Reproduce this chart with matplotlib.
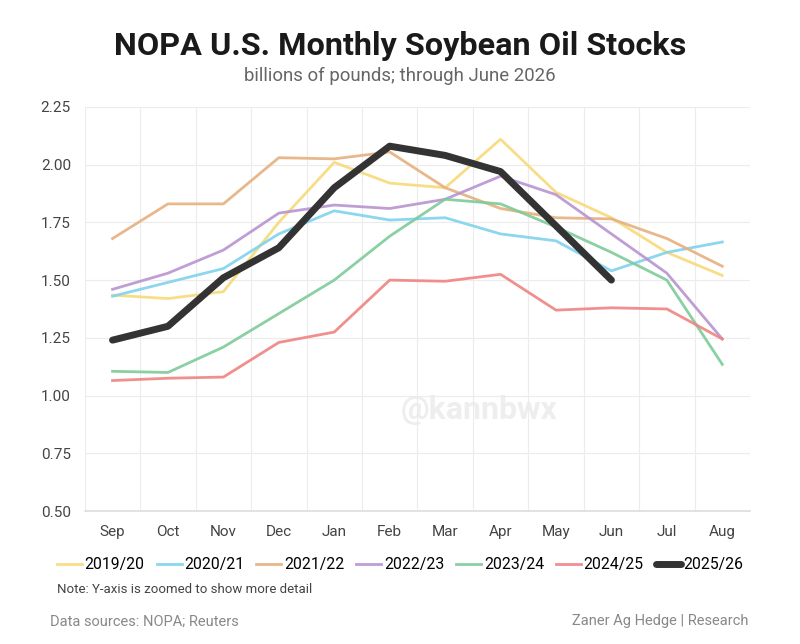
import numpy as np
import matplotlib.pyplot as plt

months = ['Sep', 'Oct', 'Nov', 'Dec', 'Jan', 'Feb', 'Mar', 'Apr', 'May', 'Jun', 'Jul', 'Aug']

s1920 = [1.435, 1.42, 1.45, 1.75, 2.01, 1.92, 1.90, 2.11, 1.88, 1.77, 1.62, 1.52]
s2021 = [1.43, 1.49, 1.55, 1.70, 1.80, 1.76, 1.77, 1.70, 1.67, 1.54, 1.62, 1.665]
s2122 = [1.68, 1.83, 1.83, 2.03, 2.025, 2.055, 1.90, 1.81, 1.77, 1.765, 1.68, 1.56]
s2223 = [1.46, 1.53, 1.63, 1.79, 1.825, 1.81, 1.85, 1.95, 1.87, 1.70, 1.53, 1.245]
s2324 = [1.105, 1.10, 1.21, 1.355, 1.50, 1.69, 1.85, 1.83, 1.73, 1.62, 1.50, 1.135]
s2425 = [1.065, 1.075, 1.08, 1.23, 1.275, 1.50, 1.495, 1.525, 1.37, 1.38, 1.375, 1.245]
s2526 = [1.24, 1.30, 1.51, 1.64, 1.90, 2.08, 2.04, 1.97, 1.735, 1.50]

seasons = ['2019/20', '2020/21', '2021/22', '2022/23', '2023/24', '2024/25', '2025/26']
series = [s1920, s2021, s2122, s2223, s2324, s2425, s2526]
colors = ['#F8DA7A', '#80D2EE', '#E6B07F', '#B894D2', '#7DCB98', '#EE8482', '#333333']

plt.rcParams['font.family'] = ['Roboto', 'DejaVu Sans']

fig = plt.figure(figsize=(8, 6.44), dpi=100)
ax = fig.add_axes([0.106, 0.2065, 0.8315, 0.6275])

x = np.arange(len(months))
for name, vals, c in zip(seasons, series, colors):
    if name == '2025/26':
        ax.plot(x[:len(vals)], vals, color=c, lw=5, solid_capstyle='round',
                solid_joinstyle='round', label=name, zorder=5)
    else:
        ax.plot(x[:len(vals)], vals, color=c, lw=2, alpha=0.9, label=name, zorder=3)

ax.set_xlim(-0.5, 11.5)
ax.set_ylim(0.5, 2.25)
ax.set_xticks(x)
ax.set_xticklabels(months)
ax.set_yticks(np.arange(0.5, 2.26, 0.25))
ax.set_yticklabels(['%.2f' % v for v in np.arange(0.5, 2.26, 0.25)])
ax.set_xticks(np.arange(-0.5, 12, 1), minor=True)
ax.grid(False)
ax.grid(True, which='minor', axis='x', color='#ececec', lw=0.8)
ax.grid(True, which='major', axis='y', color='#ececec', lw=0.8)
ax.tick_params(which='both', length=0)
ax.tick_params(axis='both', labelsize=11, labelcolor='#444444', pad=10)
for s in ['top', 'right', 'left']:
    ax.spines[s].set_visible(False)
ax.spines['bottom'].set_color('#dddddd')
ax.spines['bottom'].set_linewidth(1.2)

ax.text(0.475, 0.25, '@kannbwx', transform=ax.transAxes, fontsize=23, fontweight='bold',
        color='#eeeeee', ha='left', va='center', zorder=1)

fig.text(0.5, 0.928, 'NOPA U.S. Monthly Soybean Oil Stocks', ha='center', va='center',
         fontsize=23.3, fontweight='bold', color='#1a1a1a')
fig.text(0.5, 0.882, 'billions of pounds; through June 2026', ha='center', va='center',
         fontsize=13.4, color='#666666')

fig.legend(loc='center', bbox_to_anchor=(0.5, 0.123), ncol=7, frameon=False,
           fontsize=11.3, handlelength=1.6, handletextpad=0.15, columnspacing=0.78)

fig.text(0.071, 0.084, 'Note: Y-axis is zoomed to show more detail', fontsize=9.5,
         color='#444444', va='center')
fig.text(0.062, 0.035, 'Data sources: NOPA; Reuters', fontsize=10.5, color='#888888', va='center')
fig.text(0.935, 0.035, 'Zaner Ag Hedge | Research', fontsize=10.5, color='#888888',
         va='center', ha='right')

fig.savefig('out.png', dpi=100, facecolor='white')
